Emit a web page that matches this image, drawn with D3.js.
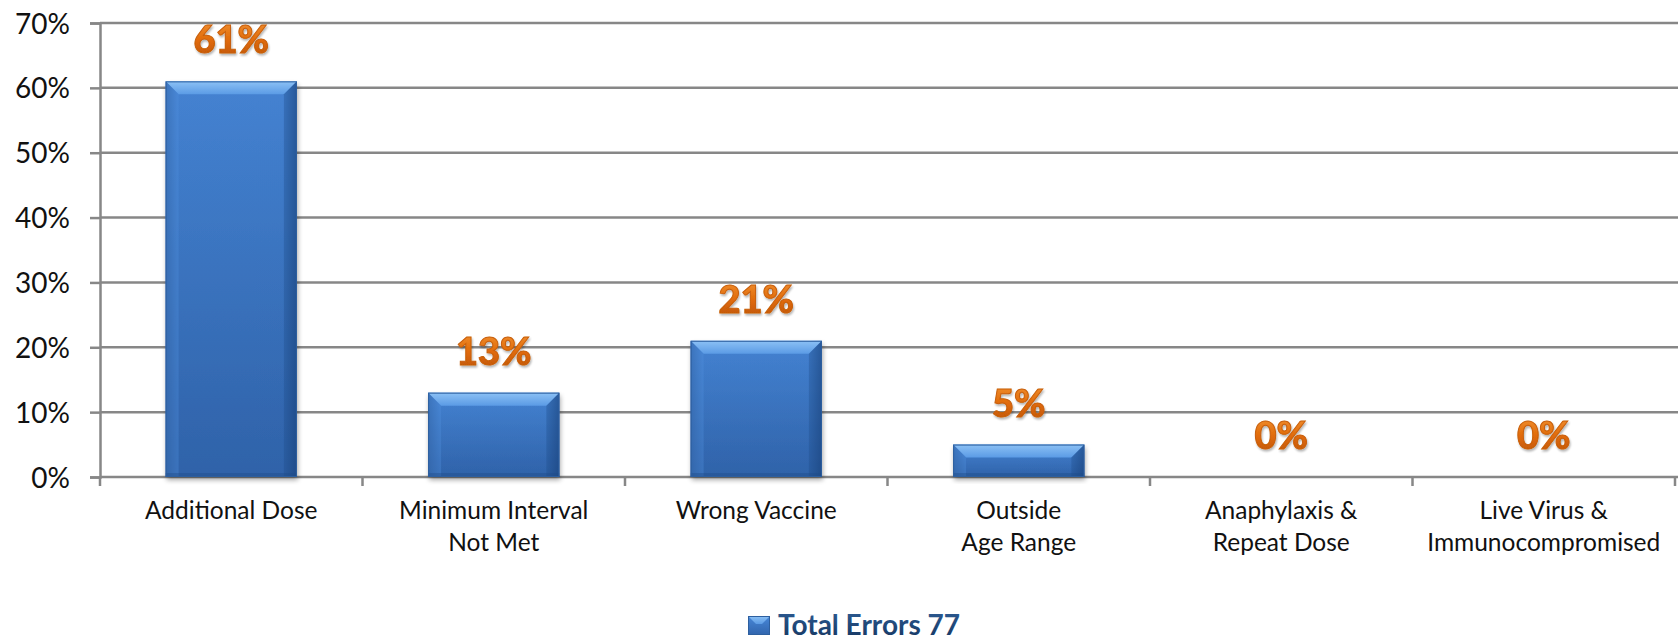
<!DOCTYPE html>
<html>
<head>
<meta charset="utf-8">
<script src="https://cdn.jsdelivr.net/npm/d3@7"></script>
<style>
  body { margin: 0; background: #fff; }
  svg { display: block; }
</style>
</head>
<body>
<div id="chart"></div>
<script>
// Chart data
const categories = [
    'Additional Dose',
    'Minimum Interval\nNot Met',
    'Wrong Vaccine',
    'Outside\nAge Range',
    'Anaphylaxis &\nRepeat Dose',
    'Live Virus &\nImmunocompromised'
];
const values = [61, 13, 21, 5, 0, 0];
const yTicks = [0, 10, 20, 30, 40, 50, 60, 70];
const seriesName = 'Total Errors 77';

const width = 1678;
const height = 640;
const margin = { top: 23, right: 3, bottom: 163, left: 100 };
const fontFamily = 'Lato, "Open Sans", sans-serif';
const gridColor = '#878787';

const svg = d3.select('#chart')
    .append('svg')
    .attr('width', width)
    .attr('height', height);

const defs = svg.append('defs');

// Bar face gradient (vertical)
const bodyGrad = defs.append('linearGradient')
    .attr('id', 'barBody').attr('x1', 0).attr('y1', 0).attr('x2', 0).attr('y2', 1);
bodyGrad.append('stop').attr('offset', '0%').attr('stop-color', '#4787d8');
bodyGrad.append('stop').attr('offset', '100%').attr('stop-color', '#3165ad');

// Side shading (horizontal)
const sideGrad = defs.append('linearGradient')
    .attr('id', 'barSide').attr('x1', 0).attr('y1', 0).attr('x2', 1).attr('y2', 0);
sideGrad.append('stop').attr('offset', '0%').attr('stop-color', '#0b2a5a').attr('stop-opacity', 0.35);
sideGrad.append('stop').attr('offset', '9%').attr('stop-color', '#0b2a5a').attr('stop-opacity', 0.05);
sideGrad.append('stop').attr('offset', '91%').attr('stop-color', '#0b2a5a').attr('stop-opacity', 0.05);
sideGrad.append('stop').attr('offset', '100%').attr('stop-color', '#0b2a5a').attr('stop-opacity', 0.4);

// Top bevel
const topGrad = defs.append('linearGradient')
    .attr('id', 'barTop').attr('x1', 0).attr('y1', 0).attr('x2', 0).attr('y2', 1);
topGrad.append('stop').attr('offset', '0%').attr('stop-color', '#8cc1f5');
topGrad.append('stop').attr('offset', '100%').attr('stop-color', '#5b9be5');

// Orange label gradient
const labelGrad = defs.append('linearGradient')
    .attr('id', 'labelFill').attr('x1', 0).attr('y1', 0).attr('x2', 0).attr('y2', 1);
labelGrad.append('stop').attr('offset', '0%').attr('stop-color', '#f59a3c');
labelGrad.append('stop').attr('offset', '55%').attr('stop-color', '#e06a08');
labelGrad.append('stop').attr('offset', '100%').attr('stop-color', '#b85206');

// Legend text gradient
const legendGrad = defs.append('linearGradient')
    .attr('id', 'legendFill').attr('x1', 0).attr('y1', 0).attr('x2', 0).attr('y2', 1);
legendGrad.append('stop').attr('offset', '0%').attr('stop-color', '#2f5f98');
legendGrad.append('stop').attr('offset', '100%').attr('stop-color', '#15355f');

// Soft shadow
const shadow = defs.append('filter').attr('id', 'shadow')
    .attr('x', '-20%').attr('y', '-20%').attr('width', '140%').attr('height', '140%');
shadow.append('feGaussianBlur').attr('in', 'SourceAlpha').attr('stdDeviation', 2.5);
shadow.append('feOffset').attr('dx', 1).attr('dy', 3).attr('result', 'off');
shadow.append('feComponentTransfer').append('feFuncA').attr('type', 'linear').attr('slope', 0.35);
const merge = shadow.append('feMerge');
merge.append('feMergeNode');
merge.append('feMergeNode').attr('in', 'SourceGraphic');

const textShadow = defs.append('filter').attr('id', 'textShadow')
    .attr('x', '-20%').attr('y', '-20%').attr('width', '140%').attr('height', '140%');
textShadow.append('feGaussianBlur').attr('in', 'SourceAlpha').attr('stdDeviation', 1);
textShadow.append('feOffset').attr('dx', 1).attr('dy', 1.5).attr('result', 'off');
textShadow.append('feComponentTransfer').append('feFuncA').attr('type', 'linear').attr('slope', 0.3);
const tmerge = textShadow.append('feMerge');
tmerge.append('feMergeNode');
tmerge.append('feMergeNode').attr('in', 'SourceGraphic');

// Scales
const x = d3.scaleBand()
    .domain(categories)
    .range([margin.left, width - margin.right])
    .paddingInner(0.5)
    .paddingOuter(0.25);

const y = d3.scaleLinear()
    .domain([0, 70])
    .range([height - margin.bottom, margin.top]);

const step = x.step();

// Gridlines
svg.append('g')
    .selectAll('line')
    .data(yTicks)
    .enter()
    .append('line')
    .attr('x1', margin.left)
    .attr('x2', width)
    .attr('y1', d => y(d))
    .attr('y2', d => y(d))
    .attr('stroke', gridColor)
    .attr('stroke-width', 2.5);

// Y axis
const yAxis = svg.append('g')
    .attr('transform', `translate(${margin.left},0)`)
    .call(d3.axisLeft(y).tickValues(yTicks).tickFormat(d => d + '%').tickSize(10).tickPadding(20));
yAxis.select('.domain').attr('stroke', gridColor).attr('stroke-width', 2.5);
yAxis.selectAll('.tick line').attr('stroke', gridColor).attr('stroke-width', 2.5);
yAxis.selectAll('.tick text')
    .attr('font-family', fontFamily)
    .attr('font-size', 28)
    .attr('fill', '#111')
    .attr('dy', '0.36em');

// X axis ticks at category boundaries
const boundaries = d3.range(categories.length + 1).map(i => margin.left + i * step);
svg.append('g')
    .selectAll('line')
    .data(boundaries)
    .enter()
    .append('line')
    .attr('x1', d => d).attr('x2', d => d)
    .attr('y1', y(0)).attr('y2', y(0) + 9)
    .attr('stroke', gridColor)
    .attr('stroke-width', 2.5);

// Category labels
const catLabels = svg.append('g')
    .selectAll('text')
    .data(categories)
    .enter()
    .append('text')
    .attr('x', d => x(d) + x.bandwidth() / 2)
    .attr('y', y(0) + 42)
    .attr('text-anchor', 'middle')
    .attr('font-family', fontFamily)
    .attr('font-size', 24.5)
    .attr('fill', '#111');

catLabels.each(function (d) {
    const lines = d.split('\n');
    const t = d3.select(this);
    lines.forEach((line, i) => {
        t.append('tspan')
            .attr('x', x(d) + x.bandwidth() / 2)
            .attr('dy', i === 0 ? 0 : 32)
            .text(line);
    });
});

// Bars with bevel
const bars = svg.append('g')
    .selectAll('g')
    .data(categories.map((c, i) => ({ cat: c, value: values[i] })).filter(d => d.value > 0))
    .enter()
    .append('g');

bars.each(function (d) {
    const g = d3.select(this);
    const x0 = x(d.cat);
    const w = x.bandwidth();
    const y0 = y(d.value);
    const h = y(0) - y0;
    const b = Math.min(13, h / 2.5);

    g.append('rect')
        .attr('x', x0).attr('y', y0).attr('width', w).attr('height', h)
        .attr('fill', 'url(#barBody)')
        .attr('filter', 'url(#shadow)');

    g.append('rect')
        .attr('x', x0).attr('y', y0).attr('width', w).attr('height', h)
        .attr('fill', 'url(#barSide)');

    // top bevel
    g.append('path')
        .attr('d', `M${x0},${y0}L${x0 + w},${y0}L${x0 + w - b},${y0 + b}L${x0 + b},${y0 + b}Z`)
        .attr('fill', 'url(#barTop)');

    // left bevel
    g.append('path')
        .attr('d', `M${x0},${y0}L${x0 + b},${y0 + b}L${x0 + b},${y0 + h}L${x0},${y0 + h}Z`)
        .attr('fill', '#4f8fdc').attr('fill-opacity', 0.35);

    // right bevel
    g.append('path')
        .attr('d', `M${x0 + w},${y0}L${x0 + w - b},${y0 + b}L${x0 + w - b},${y0 + h}L${x0 + w},${y0 + h}Z`)
        .attr('fill', '#1d4a86').attr('fill-opacity', 0.35);

    // bottom edge
    g.append('rect')
        .attr('x', x0).attr('y', y0 + h - 4).attr('width', w).attr('height', 4)
        .attr('fill', '#1d4a86').attr('fill-opacity', 0.4);

    // outline
    g.append('rect')
        .attr('x', x0 + 0.5).attr('y', y0 + 0.5).attr('width', w - 1).attr('height', h - 1)
        .attr('fill', 'none')
        .attr('stroke', '#2d5f9f').attr('stroke-width', 1);
});

// Value labels
svg.append('g')
    .selectAll('text')
    .data(categories.map((c, i) => ({ cat: c, value: values[i] })))
    .enter()
    .append('text')
    .attr('x', d => x(d.cat) + x.bandwidth() / 2)
    .attr('y', d => y(d.value) - 28)
    .attr('text-anchor', 'middle')
    .attr('font-family', fontFamily)
    .attr('font-weight', 900)
    .attr('font-size', 38)
    .attr('fill', 'url(#labelFill)')
    .attr('stroke', '#c85e08')
    .attr('stroke-width', 1)
    .attr('filter', 'url(#textShadow)')
    .text(d => d.value + '%');

// Legend
const legend = svg.append('g')
    .attr('transform', 'translate(748, 615)');

legend.append('rect')
    .attr('x', 0).attr('y', 1).attr('width', 22).attr('height', 19)
    .attr('fill', 'url(#barBody)');
legend.append('path')
    .attr('d', 'M0,1L22,1L14,9L8,9Z')
    .attr('fill', 'url(#barTop)');
legend.append('rect')
    .attr('x', 0.5).attr('y', 1.5).attr('width', 21).attr('height', 18)
    .attr('fill', 'none').attr('stroke', '#2d5f9f').attr('stroke-width', 1);

legend.append('text')
    .attr('x', 30)
    .attr('y', 20)
    .attr('font-family', fontFamily)
    .attr('font-weight', 'bold')
    .attr('font-size', 28)
    .attr('fill', 'url(#legendFill)')
    .text(seriesName);
</script>
</body>
</html>
